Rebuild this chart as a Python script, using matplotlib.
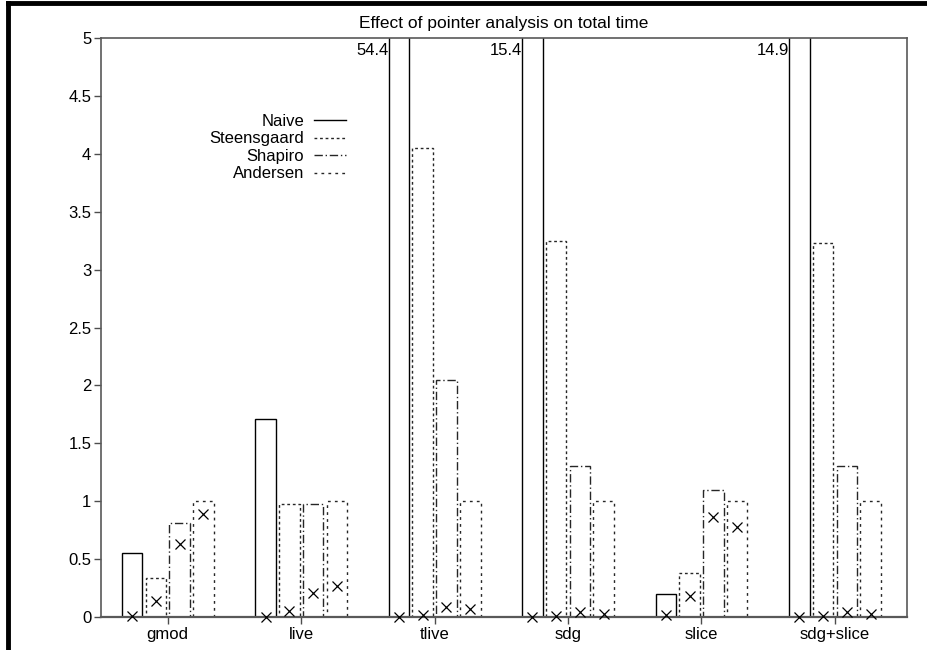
# Effect of pointer analysis on total time - grouped outline bars with cross markers
import numpy as np
import matplotlib.pyplot as plt
from matplotlib.lines import Line2D

plt.rcParams['font.family'] = ['Liberation Sans', 'DejaVu Sans']

groups = ["gmod", "live", "tlive", "sdg", "slice", "sdg+slice"]
series = ["Naive", "Steensgaard", "Shapiro", "Andersen"]

# bar heights (total time), one list per series
naive = [0.55, 1.71, 54.4, 15.4, 0.20, 14.9]
steensgaard = [0.34, 0.98, 4.05, 3.25, 0.38, 3.23]
shapiro = [0.81, 0.98, 2.05, 1.30, 1.10, 1.30]
andersen = [1.0, 1.0, 1.0, 1.0, 1.0, 1.0]

# cross markers inside each bar
naive_x = [0.01, 0.0, 0.0, 0.0, 0.02, 0.0]
steensgaard_x = [0.14, 0.05, 0.02, 0.01, 0.18, 0.01]
shapiro_x = [0.63, 0.21, 0.09, 0.04, 0.86, 0.04]
andersen_x = [0.89, 0.27, 0.07, 0.03, 0.78, 0.03]

heights = [naive, steensgaard, shapiro, andersen]
crosses = [naive_x, steensgaard_x, shapiro_x, andersen_x]
styles = ['-', (0, (2, 2)), (0, (6, 2, 1, 2)), (0, (2, 3))]
colors = ['black', '0.15', '0.15', '0.15']

fig = plt.figure(figsize=(9.28, 6.5), dpi=100)
ax = fig.add_axes([101/928, 1-617/650, (907-101)/928, (617-38)/650])

x = np.arange(1, len(groups) + 1)
step = 0.178
width = 0.154
ymax = 5

for i in range(4):
    pos = x + (i - 1.5) * step
    ax.bar(pos, heights[i], width=width, fill=False, edgecolor=colors[i],
           linestyle=styles[i], linewidth=1.0)
    ax.plot(pos, crosses[i], 'x', color='black', ms=7, mew=0.9,
            linestyle='none', clip_on=False, zorder=5)
    # label bars that run off the top
    for p, v in zip(pos, heights[i]):
        if v > ymax:
            ax.text(p - width/2, ymax - 0.04, f"{v}", ha='right', va='top',
                    fontsize=12)

ax.set_xlim(0.5, 6.54)
ax.set_ylim(0, ymax)
ax.set_xticks(x)
ax.set_xticklabels(groups, fontsize=12)
ax.set_yticks(np.arange(0, 5.01, 0.5))
ax.set_yticklabels(["0", "0.5", "1", "1.5", "2", "2.5", "3", "3.5", "4", "4.5", "5"],
                   fontsize=12)
ax.tick_params(direction='out', length=5, width=1, color='0.3', pad=2)

for s in ax.spines.values():
    s.set_color('0.35')
    s.set_linewidth(1.2)
ax.spines['bottom'].set_linewidth(1.6)

ax.set_title("Effect of pointer analysis on total time", fontsize=12.5, pad=7)

handles = [Line2D([], [], color=colors[i], linestyle=styles[i], lw=1.0) for i in range(4)]
ax.legend(handles, series, loc='upper right', bbox_to_anchor=(0.318, 0.889),
          frameon=False, markerfirst=False, fontsize=12, labelspacing=0.15,
          handlelength=1.9, handletextpad=0.6, borderpad=0.2)

# thick page frame on top and left
fig.add_artist(Line2D([8/928, 1], [1-3/650, 1-3/650], transform=fig.transFigure,
                      color='black', lw=3.5))
fig.add_artist(Line2D([8/928, 8/928], [0, 1-3/650], transform=fig.transFigure,
                      color='black', lw=3.5))

plt.savefig('out.png', dpi=100)
